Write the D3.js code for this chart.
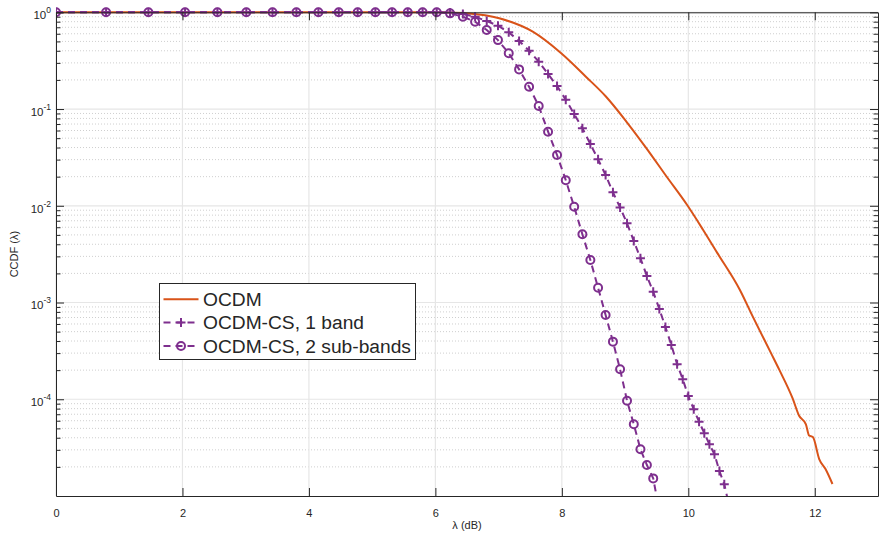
<!DOCTYPE html>
<html><head><meta charset="utf-8">
<script src="https://cdn.jsdelivr.net/npm/d3@7"></script>
<style>
body{margin:0;background:#fff;}
text{font-family:"Liberation Sans",Arial,Helvetica,sans-serif;fill:#262626;}
</style>
</head><body>
<svg id="c" width="887" height="538"></svg>
<script>
// ---------- data ----------
const xTicks = [0, 2, 4, 6, 8, 10, 12];
const yTickExps = [0, -1, -2, -3, -4];
const seriesNames = ["OCDM", "OCDM-CS, 1 band", "OCDM-CS, 2 sub-bands"];

// common λ grid (dB) of the OCDM-CS curves
const lambdaGrid = [0, 0.792, 1.461, 2.041, 2.553, 3.010, 3.424, 3.802, 4.150, 4.472,
  4.771, 5.051, 5.315, 5.563, 5.798, 6.021, 6.232, 6.435, 6.628, 6.812,
  6.990, 7.160, 7.324, 7.482, 7.634, 7.782, 7.924, 8.062, 8.195, 8.325,
  8.451, 8.573, 8.692, 8.808, 8.921, 9.031, 9.138, 9.243, 9.345, 9.445,
  9.542, 9.638, 9.731, 9.823, 9.912, 10.000, 10.086, 10.170, 10.253, 10.334,
  10.414, 10.492, 10.569, 10.645];

const cs1Y = [1, 1, 1, 1, 1, 1, 1, 1, 1, 1,
  1, 1, 1, 1, 1, 1, 0.995, 0.96, 0.90, 0.813,
  0.727, 0.621, 0.505, 0.401, 0.309, 0.230, 0.173, 0.125, 0.0889, 0.0632,
  0.0435, 0.0302, 0.0208, 0.0138, 0.0096, 0.00659, 0.00432, 0.00286, 0.00188, 0.00129,
  8.57e-4, 5.58e-4, 3.64e-4, 2.30e-4, 1.61e-4, 1.08e-4, 7.87e-5, 5.86e-5, 4.45e-5, 3.42e-5,
  2.70e-5, 1.81e-5, 1.32e-5, 8e-6];

const cs2Y = [1, 1, 1, 1, 1, 1, 1, 1, 1, 1,
  1, 1, 1, 1, 1, 1, 0.975, 0.90, 0.80, 0.656,
  0.516, 0.377, 0.257, 0.170, 0.1075, 0.0583, 0.0335, 0.0184, 0.00978, 0.00507,
  0.00275, 0.00142, 7.44e-4, 3.94e-4, 2.04e-4, 9.66e-5, 5.51e-5, 3.04e-5, 2.09e-5, 1.52e-5,
  7e-6];

const ocdmX = [0, 5.5, 6.0, 6.2, 6.49, 7.01, 7.54, 7.99, 8.38, 8.70, 9.02, 9.33, 9.65, 9.99,
  10.23, 10.46, 10.81, 11.02, 11.31, 11.44, 11.65, 11.75, 11.86, 11.91, 11.97,
  12.07, 12.17, 12.28];
const ocdmY = [1, 1, 0.999, 0.995, 0.976, 0.867, 0.630, 0.377, 0.216, 0.134, 0.0743, 0.0399, 0.0203, 0.0100,
  0.00569, 0.00324, 0.00137, 7.14e-4, 2.98e-4, 2.01e-4, 1.02e-4, 6.8e-5, 5.5e-5, 4.22e-5, 4.07e-5,
  2.41e-5, 1.90e-5, 1.33e-5];

// ---------- layout ----------
const L = 56, R = 878, T = 12.3, B = 496;
const cOrange = "#D95319", cPurple = "#7E2F8E", axisCol = "#262626";
const svg = d3.select("#c");
const x = d3.scaleLinear().domain([0, 13]).range([L, R]);
const y = d3.scaleLog().domain([1e-5, 1]).range([B, T]);

svg.append("rect").attr("x", L).attr("y", T).attr("width", R - L).attr("height", B - T).attr("fill", "#fff");

// minor y grid (dotted)
const allYT = y.ticks();
const majorVals = yTickExps.map(e => Math.pow(10, e));
const isMajor = v => Math.abs(Math.log10(v) - Math.round(Math.log10(v))) < 1e-9;
const minorVals = allYT.filter(v => !isMajor(v));
svg.append("g").selectAll("line").data(minorVals).join("line")
  .attr("x1", L).attr("x2", R).attr("y1", d => y(d)).attr("y2", d => y(d))
  .attr("stroke", "#cfcfcf").attr("stroke-width", 1).attr("stroke-dasharray", "1,2");
// major grid
svg.append("g").selectAll("line").data(majorVals).join("line")
  .attr("x1", L).attr("x2", R).attr("y1", d => y(d)).attr("y2", d => y(d))
  .attr("stroke", "#e6e6e6").attr("stroke-width", 1.2);
svg.append("g").selectAll("line").data(xTicks).join("line")
  .attr("x1", d => x(d)).attr("x2", d => x(d)).attr("y1", T).attr("y2", B)
  .attr("stroke", "#e6e6e6").attr("stroke-width", 1.2);

// ---------- data lines ----------
svg.append("defs").append("clipPath").attr("id", "clip")
  .append("rect").attr("x", L).attr("y", T - 6).attr("width", R - L).attr("height", B - T + 6);

const gData = svg.append("g").attr("clip-path", "url(#clip)");
const line = d3.line().x(d => x(d[0])).y(d => y(d[1])).curve(d3.curveMonotoneX);

const ocdm = ocdmX.map((v, i) => [v, ocdmY[i]]);
const cs1 = cs1Y.map((v, i) => [lambdaGrid[i], v]);
const cs2 = cs2Y.map((v, i) => [lambdaGrid[i], v]);

gData.append("path").attr("d", line(ocdm)).attr("fill", "none")
  .attr("stroke", cOrange).attr("stroke-width", 2);
const lineLin = d3.line().x(d => x(d[0])).y(d => y(d[1]));
gData.append("path").attr("d", lineLin(cs1)).attr("fill", "none")
  .attr("stroke", cPurple).attr("stroke-width", 2).attr("stroke-dasharray", "7,5");
gData.append("path").attr("d", lineLin(cs2)).attr("fill", "none")
  .attr("stroke", cPurple).attr("stroke-width", 2).attr("stroke-dasharray", "7,5");

const plusPath = "M-4.5,0H4.5M0,-4.5V4.5";
gData.append("g").selectAll("path").data(cs1.filter(d => d[1] >= 1e-5)).join("path")
  .attr("d", plusPath).attr("transform", d => `translate(${x(d[0])},${y(d[1])})`)
  .attr("stroke", cPurple).attr("stroke-width", 2).attr("fill", "none");
gData.append("g").selectAll("circle").data(cs2.filter(d => d[1] >= 1e-5)).join("circle")
  .attr("cx", d => x(d[0])).attr("cy", d => y(d[1])).attr("r", 4)
  .attr("stroke", cPurple).attr("stroke-width", 2).attr("fill", "none");

// ---------- axes ----------
const gx = svg.append("g").attr("transform", `translate(0,${B})`)
  .call(d3.axisBottom(x).tickValues(xTicks).tickSizeInner(-8).tickSizeOuter(0).tickPadding(13).tickFormat(d3.format("d")));
gx.select(".domain").attr("stroke", axisCol);
gx.selectAll(".tick line").attr("stroke", axisCol);
gx.selectAll(".tick text").attr("font-size", 11).attr("fill", axisCol)
  .attr("font-family", '"Liberation Sans",Arial,sans-serif');

const gxt = svg.append("g").attr("transform", `translate(0,${T})`)
  .call(d3.axisTop(x).tickValues(xTicks).tickSizeInner(-8).tickSizeOuter(0).tickFormat(""));
gxt.select(".domain").attr("stroke", axisCol);
gxt.selectAll(".tick line").attr("stroke", axisCol);

const gy = svg.append("g").attr("transform", `translate(${L},0)`)
  .call(d3.axisLeft(y).tickValues(majorVals).tickSizeInner(-8).tickSizeOuter(0).tickFormat(""));
gy.select(".domain").attr("stroke", axisCol);
gy.selectAll(".tick line").attr("stroke", axisCol);
const gyMinor = svg.append("g").attr("transform", `translate(${L},0)`)
  .call(d3.axisLeft(y).tickValues(minorVals).tickSizeInner(-4.5).tickSizeOuter(0).tickFormat(""));
gyMinor.select(".domain").remove();
gyMinor.selectAll(".tick line").attr("stroke", axisCol);

const gyr = svg.append("g").attr("transform", `translate(${R},0)`)
  .call(d3.axisRight(y).tickValues(majorVals).tickSizeInner(-8).tickSizeOuter(0).tickFormat(""));
gyr.select(".domain").attr("stroke", axisCol);
gyr.selectAll(".tick line").attr("stroke", axisCol);
const gyrMinor = svg.append("g").attr("transform", `translate(${R},0)`)
  .call(d3.axisRight(y).tickValues(minorVals).tickSizeInner(-4.5).tickSizeOuter(0).tickFormat(""));
gyrMinor.select(".domain").remove();
gyrMinor.selectAll(".tick line").attr("stroke", axisCol);

// y tick labels with superscripts
const yl = svg.append("g").selectAll("text").data(yTickExps).join("text")
  .attr("x", 51).attr("y", d => y(Math.pow(10, d)) + 6.8)
  .attr("text-anchor", "end").attr("font-size", 11.5);
yl.append("tspan").text("10");
yl.append("tspan").attr("dy", -6).attr("font-size", 8.5).text(d => String(d));

// axis titles
svg.append("text").attr("x", (L + R) / 2).attr("y", 529).attr("text-anchor", "middle")
  .attr("font-size", 11).text("λ (dB)");
svg.append("text").attr("transform", `translate(18,${(T + B) / 2}) rotate(-90)`)
  .attr("text-anchor", "middle").attr("font-size", 11).text("CCDF (λ)");

// ---------- legend ----------
const lg = svg.append("g");
lg.append("rect").attr("x", 159.5).attr("y", 283.5).attr("width", 256).attr("height", 76)
  .attr("fill", "#fff").attr("stroke", axisCol).attr("stroke-width", 1);
const rowsY = [299.3, 322.5, 346];
seriesNames.forEach((name, i) => {
  const ry = rowsY[i];
  const ln = lg.append("line").attr("x1", 163.5).attr("x2", 198.5).attr("y1", ry).attr("y2", ry)
    .attr("stroke", i === 0 ? cOrange : cPurple).attr("stroke-width", 2);
  if (i > 0) ln.attr("stroke-dasharray", "7,5");
  if (i === 1) lg.append("path").attr("d", plusPath).attr("transform", `translate(181,${ry})`)
    .attr("stroke", cPurple).attr("stroke-width", 2);
  if (i === 2) lg.append("circle").attr("cx", 181).attr("cy", ry).attr("r", 4)
    .attr("stroke", cPurple).attr("stroke-width", 2).attr("fill", "none");
  lg.append("text").attr("x", 203).attr("y", ry + 6.9).attr("font-size", 19.2)
    .attr("fill", "#000").text(name);
});
</script>
</body></html>
